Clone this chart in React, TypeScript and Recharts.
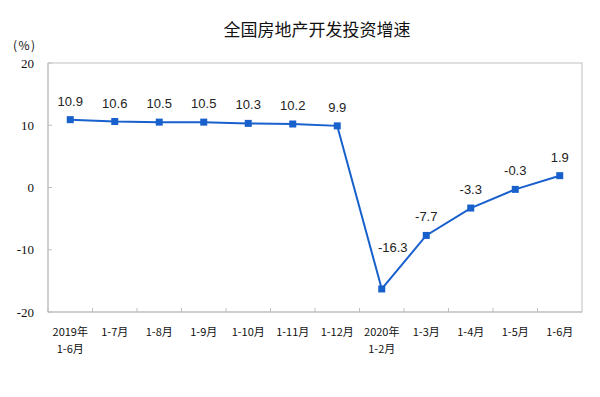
import { LineChart, Line, XAxis, YAxis, LabelList, usePlotArea } from "recharts"

const periods = [
  "2019年\n1-6月",
  "1-7月",
  "1-8月",
  "1-9月",
  "1-10月",
  "1-11月",
  "1-12月",
  "2020年\n1-2月",
  "1-3月",
  "1-4月",
  "1-5月",
  "1-6月",
]
const growth = [10.9, 10.6, 10.5, 10.5, 10.3, 10.2, 9.9, -16.3, -7.7, -3.3, -0.3, 1.9]
const yTicks = [-20, -10, 0, 10, 20]

const BLUE = "#1860cc"
const AXIS = "#bfbfbf"
const CJK = "'Noto Sans CJK SC', sans-serif"

const data = periods.map((p, i) => ({ period: p, value: growth[i] }))

function PlotFrame() {
  const area = usePlotArea()
  if (!area) return null
  return (
    <rect
      x={area.x}
      y={area.y}
      width={area.width}
      height={area.height}
      fill="none"
      stroke={AXIS}
    />
  )
}

// category labels, plus the small tick at the left edge of each band
function PeriodTick(props: any) {
  const { x, y, payload } = props
  const lines = String(payload.value).split("\n")
  const half = payload.offset ?? 0
  return (
    <g>
      <line x1={x - half} x2={x - half} y1={y - 4} y2={y} stroke={AXIS} />
      {lines.map((line, i) => (
        <text
          key={i}
          x={x}
          y={y + 24 + i * 17}
          textAnchor="middle"
          fontSize={11}
          fontFamily={CJK}
          fill="#111"
        >
          {line}
        </text>
      ))}
    </g>
  )
}

function ValueLabel(props: any) {
  const { x, y, value } = props
  const trough = value === Math.min(...growth)
  return (
    <text
      x={x + (trough ? 11 : 0)}
      y={y + (trough ? -37 : -14)}
      textAnchor="middle"
      fontSize={13}
      fontFamily="'Liberation Sans', Arial, sans-serif"
      fill="#222"
    >
      {value}
    </text>
  )
}

function SquareDot(props: any) {
  const { cx, cy } = props
  if (cx == null || cy == null) return null
  return <rect x={cx - 3.5} y={cy - 3.5} width={7} height={7} fill={BLUE} />
}

export default function App() {
  return (
    <div style={{ position: "absolute", left: 0, top: 0, background: "#fff" }}>
      <LineChart
        width={600}
        height={397}
        data={data}
        margin={{ top: 63, right: 18, bottom: 0, left: 0 }}
      >
        <text
          x={317}
          y={36}
          textAnchor="middle"
          fontSize={17}
          fontFamily={CJK}
          fill="#111"
        >
          全国房地产开发投资增速
        </text>
        <text
          x={13}
          y={50}
          fontSize={12}
          letterSpacing={1.5}
          fontFamily={CJK}
          fill="#111"
        >
          (%)
        </text>
        <PlotFrame />
        <XAxis
          dataKey="period"
          scale="band"
          height={85}
          interval={0}
          tickSize={0}
          tickMargin={0}
          tickLine={false}
          axisLine={{ stroke: AXIS }}
          tick={<PeriodTick />}
        />
        <YAxis
          width={48}
          domain={[-20, 20]}
          ticks={yTicks}
          tickSize={-4}
          tickMargin={18}
          axisLine={{ stroke: AXIS }}
          tickLine={{ stroke: AXIS }}
          tick={{ fill: "#111", fontSize: 13, fontFamily: "'Liberation Serif', serif" }}
        />
        <Line
          dataKey="value"
          stroke={BLUE}
          strokeWidth={2}
          dot={<SquareDot />}
          activeDot={false}
          isAnimationActive={false}
        >
          <LabelList dataKey="value" content={<ValueLabel />} />
        </Line>
      </LineChart>
    </div>
  )
}
